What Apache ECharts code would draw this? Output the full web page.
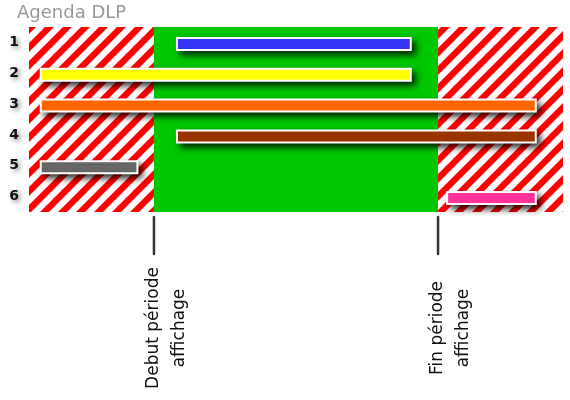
<!DOCTYPE html>
<html>
<head>
<meta charset="utf-8">
<script src="https://cdn.jsdelivr.net/npm/echarts@6/dist/echarts.min.js"></script>
<style>html,body{margin:0;padding:0;background:#fff;}#c{width:570px;height:400px;}</style>
</head>
<body>
<div id="c"></div>
<script>
// ---- data ----
const categories = ['1', '2', '3', '4', '5', '6'];
const barStarts = [27.7, 2.2, 2.2, 27.7, 2.2, 78.3];
const barEnds = [71.5, 71.5, 94.9, 94.9, 20.3, 94.9];
const barColors = ['#3434f6', '#ffff00', '#ff6600', '#993300', '#666666', '#ff3399'];
const periodBounds = [23.4, 76.6];
const periodLabels = ['Debut période\naffichage', 'Fin période\naffichage'];
const xRange = [0, 100];
const titleText = 'Agenda DLP';

// ---- hatch pattern ----
function makeHatch() {
  const P = 18, w = 9;
  const c = document.createElement('canvas');
  c.width = P; c.height = P;
  const ctx = c.getContext('2d');
  ctx.fillStyle = '#ffffff';
  ctx.fillRect(0, 0, P, P);
  ctx.fillStyle = '#ff0000';
  for (let k = -2; k <= 3; k++) {
    const s = k * P;
    ctx.beginPath();
    ctx.moveTo(s, 0);
    ctx.lineTo(s + w, 0);
    ctx.lineTo(s + w - P, P);
    ctx.lineTo(s - P, P);
    ctx.closePath();
    ctx.fill();
  }
  return c;
}
const hatch = { image: makeHatch(), repeat: 'repeat' };

const zones = [
  [xRange[0], periodBounds[0], 0],
  [periodBounds[0], periodBounds[1], 1],
  [periodBounds[1], xRange[1], 0]
];
const bars = categories.map((c, i) => [barStarts[i], barEnds[i], i]);
const marks = periodBounds.map((v, i) => [v, i]);

const chart = echarts.init(document.getElementById('c'));
chart.setOption({
  animation: false,
  title: {
    text: titleText, left: 17, top: 4, padding: 0,
    textStyle: { color: '#999', fontSize: 18, fontWeight: 'normal', fontFamily: 'DejaVu Sans' }
  },
  grid: { left: 29, right: 7, top: 27, bottom: 188, containLabel: false },
  xAxis: { type: 'value', min: xRange[0], max: xRange[1], show: false },
  yAxis: {
    type: 'category', data: categories, inverse: true,
    axisLine: { show: false }, axisTick: { show: false }, splitLine: { show: false },
    axisLabel: {
      margin: 10, color: '#111', fontSize: 14, fontWeight: 'bold', fontFamily: 'DejaVu Sans',
      textShadowColor: 'rgba(0,0,0,0.5)', textShadowBlur: 5, textShadowOffsetX: 2, textShadowOffsetY: 2
    }
  },
  series: [
    {
      type: 'custom', silent: true, z: 1,
      data: zones,
      renderItem: function (params, api) {
        const cs = params.coordSys;
        const x0 = api.coord([api.value(0), 0])[0];
        const x1 = api.coord([api.value(1), 0])[0];
        return {
          type: 'rect',
          shape: { x: x0, y: cs.y, width: x1 - x0, height: cs.height },
          style: { fill: api.value(2) === 1 ? '#00c800' : hatch }
        };
      }
    },
    {
      type: 'custom', silent: true, z: 3,
      data: bars,
      renderItem: function (params, api) {
        const i = api.value(2);
        const p0 = api.coord([api.value(0), i]);
        const p1 = api.coord([api.value(1), i]);
        const h = 14, b = 2;
        const x = p0[0] - 1, y = p0[1] - h / 2 + 1.5, w = p1[0] - p0[0] + 2;
        return {
          type: 'group',
          children: [
            {
              type: 'rect',
              shape: { x: x, y: y, width: w, height: h },
              style: {
                fill: '#ffffff',
                shadowBlur: 7, shadowOffsetX: 4, shadowOffsetY: 4, shadowColor: 'rgba(0,0,0,0.85)'
              }
            },
            {
              type: 'rect',
              shape: { x: x + b, y: y + b, width: w - 2 * b, height: h - 2 * b },
              style: { fill: barColors[i] }
            }
          ]
        };
      }
    },
    {
      type: 'custom', silent: true, z: 3, clip: false,
      data: marks,
      renderItem: function (params, api) {
        const cs = params.coordSys;
        const x = api.coord([api.value(0), 0])[0];
        const bottom = cs.y + cs.height;
        return {
          type: 'group',
          children: [
            {
              type: 'line',
              shape: { x1: x, y1: bottom + 5, x2: x, y2: bottom + 42 },
              style: { stroke: '#333333', lineWidth: 2.5, lineCap: 'round' }
            },
            {
              type: 'text',
              x: x + 12.5, y: 328, rotation: Math.PI / 2,
              style: {
                text: periodLabels[api.value(1)],
                fontSize: 17, fontFamily: 'DejaVu Sans', fill: '#111',
                align: 'center', verticalAlign: 'middle', lineHeight: 26
              }
            }
          ]
        };
      }
    }
  ]
});
</script>
</body>
</html>
